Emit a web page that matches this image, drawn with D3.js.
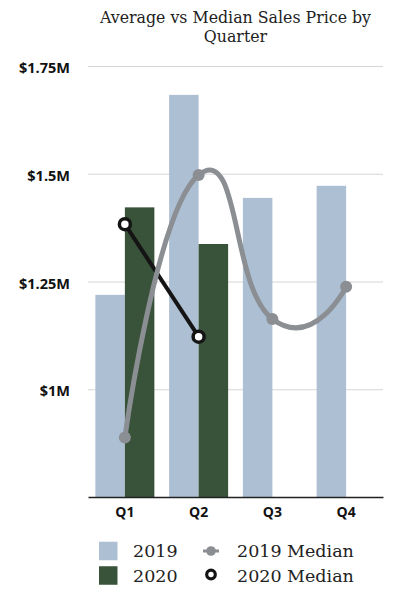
<!DOCTYPE html>
<html>
<head>
<meta charset="utf-8">
<script src="https://cdn.jsdelivr.net/npm/d3@7"></script>
<style>
  body { margin: 0; background: #fff; }
  svg { display: block; }
</style>
</head>
<body>
<svg id="chart" width="393" height="591"></svg>
<script>
// Quarterly sales prices, in millions of dollars
const quarters = ["Q1", "Q2", "Q3", "Q4"];
const avg2019 = [1.219, 1.683, 1.444, 1.472];
const avg2020 = [1.422, 1.337, null, null];
const median2019 = [0.888, 1.497, 1.163, 1.238];
const median2020 = [1.383, 1.122];
const yTicks = [1, 1.25, 1.5, 1.75];
const yTickLabels = ["$1M", "$1.25M", "$1.5M", "$1.75M"];
const years = ["2019", "2020"];
const titleLines = ["Average vs Median Sales Price by", "Quarter"];
const legendLabels = ["2019", "2020", "2019 Median", "2020 Median"];

const colors = { bar2019: "#adbfd2", bar2020: "#39523a", med2019: "#8b8e93", med2020: "#141414" };
const serif = "'DejaVu Serif', 'Liberation Serif', serif";
const sans = "'Open Sans', Lato, sans-serif";

const svg = d3.select("#chart");
const plot = { left: 88, right: 383, top: 66, bottom: 497 };

const x = d3.scaleBand().domain(quarters).range([plot.left, plot.right]).padding(0);
const xYear = d3.scaleBand().domain(years).range([0, x.bandwidth()]).paddingInner(0).paddingOuter(0.25);
const y = d3.scaleLinear().domain([0.75, 1.75]).range([plot.bottom, plot.top]);
const cx = q => x(q) + x.bandwidth() / 2;

// Title
svg.append("text")
  .attr("text-anchor", "middle")
  .style("font-family", serif)
  .style("font-size", "15.8px")
  .style("fill", "#222")
  .selectAll("tspan")
  .data(titleLines)
  .join("tspan")
  .attr("x", (plot.left + plot.right) / 2)
  .attr("y", (d, i) => 22.5 + i * 19.5)
  .text(d => d);

// Gridlines and value labels
const yAxis = svg.append("g")
  .attr("transform", `translate(${plot.left},0)`)
  .call(d3.axisLeft(y)
    .tickValues(yTicks)
    .tickFormat((d, i) => yTickLabels[i])
    .tickSizeInner(-(plot.right - plot.left))
    .tickSizeOuter(0)
    .tickPadding(18));
yAxis.select(".domain").remove();
yAxis.selectAll(".tick line").attr("stroke", "#d6d6d6").attr("stroke-width", 1.2);
yAxis.selectAll(".tick text")
  .attr("dy", "0.45em")
  .style("font-family", sans)
  .style("font-weight", 700)
  .style("font-size", "14.5px")
  .style("fill", "#111");

// Bars
const barData = [];
quarters.forEach((q, i) => {
  barData.push({ q, year: "2019", v: avg2019[i] });
  if (avg2020[i] != null) barData.push({ q, year: "2020", v: avg2020[i] });
});
svg.append("g")
  .selectAll("rect")
  .data(barData)
  .join("rect")
  .attr("x", d => x(d.q) + xYear(d.year))
  .attr("width", xYear.bandwidth())
  .attr("y", d => y(d.v))
  .attr("height", d => y(0.75) - y(d.v))
  .attr("fill", d => d.year === "2019" ? colors.bar2019 : colors.bar2020);

// Category axis
const xAxis = svg.append("g")
  .attr("transform", `translate(0,${plot.bottom})`)
  .call(d3.axisBottom(x).tickSize(0).tickPadding(10));
xAxis.select(".domain").attr("stroke", "#222").attr("stroke-width", 1.5);
xAxis.selectAll(".tick text")
  .style("font-family", sans)
  .style("font-weight", 700)
  .style("font-size", "14px")
  .style("fill", "#111");

// Median lines
const medianLine = d3.line()
  .x((d, i) => cx(quarters[i]))
  .y(d => y(d))
  .curve(d3.curveCardinal.tension(-0.7));

svg.append("path")
  .datum(median2020)
  .attr("d", d3.line().x((d, i) => cx(quarters[i])).y(d => y(d)))
  .attr("fill", "none")
  .attr("stroke", colors.med2020)
  .attr("stroke-width", 4);

svg.append("g")
  .selectAll("circle")
  .data(median2020)
  .join("circle")
  .attr("cx", (d, i) => cx(quarters[i]))
  .attr("cy", d => y(d))
  .attr("r", 5.5)
  .attr("fill", "#fff")
  .attr("stroke", colors.med2020)
  .attr("stroke-width", 3.5);

svg.append("path")
  .datum(median2019)
  .attr("d", medianLine)
  .attr("fill", "none")
  .attr("stroke", colors.med2019)
  .attr("stroke-width", 5)
  .attr("stroke-linecap", "round");

svg.append("g")
  .selectAll("circle")
  .data(median2019)
  .join("circle")
  .attr("cx", (d, i) => cx(quarters[i]))
  .attr("cy", d => y(d))
  .attr("r", 6)
  .attr("fill", colors.med2019);

// Legend
const legend = svg.append("g").style("font-family", serif).style("font-size", "17.5px").style("fill", "#222");
const rows = [551, 575.5];
[colors.bar2019, colors.bar2020].forEach((c, i) => {
  legend.append("rect").attr("x", 99).attr("y", rows[i] - 9.25).attr("width", 18.5).attr("height", 18.5).attr("fill", c);
  legend.append("text").attr("x", 133).attr("y", rows[i] + 6.3).text(legendLabels[i]);
});
// line + marker samples
legend.append("line").attr("x1", 203).attr("x2", 219).attr("y1", rows[0]).attr("y2", rows[0])
  .attr("stroke", colors.med2019).attr("stroke-width", 3);
legend.append("circle").attr("cx", 211).attr("cy", rows[0]).attr("r", 4.8).attr("fill", colors.med2019);
legend.append("circle").attr("cx", 211).attr("cy", rows[1] - 1).attr("r", 4.3)
  .attr("fill", "#fff").attr("stroke", colors.med2020).attr("stroke-width", 3.2);
legend.append("text").attr("x", 237).attr("y", rows[0] + 6.3).text(legendLabels[2]);
legend.append("text").attr("x", 237).attr("y", rows[1] + 6.3).text(legendLabels[3]);
</script>
</body>
</html>
